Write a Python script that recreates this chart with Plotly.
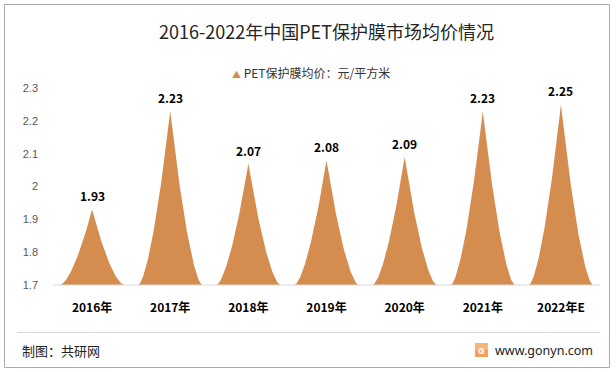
import numpy as np
import plotly.graph_objects as go

categories = ["2016年", "2017年", "2018年", "2019年", "2020年", "2021年", "2022年E"]
values = [1.93, 2.23, 2.07, 2.08, 2.09, 2.23, 2.25]
series_name = "PET保护膜均价：元/平方米"
title_text = "2016-2022年中国PET保护膜市场均价情况"
y_ticks = [1.7, 1.8, 1.9, 2.0, 2.1, 2.2, 2.3]
y_tick_text = ["1.7", "1.8", "1.9", "2", "2.1", "2.2", "2.3"]

BASE = 1.7
COLOR = "#D58C4F"
FONT = "Noto Sans CJK SC"
W, H = 616, 372
L, R, T, B = 53, 16, 88, 87
PW, PH = W - L - R, H - T - B


def px(x):
    return (x - L) / PW


def py(y):
    return (H - B - y) / PH


fig = go.Figure()

half = 0.41
p = 1.6
for i, v in enumerate(values):
    d = np.linspace(-half, half, 121)
    yy = BASE + (v - BASE) * (1 - np.abs(d) / half) ** p
    fig.add_trace(go.Scatter(
        x=i + d, y=yy, mode="lines", fill="toself", name=series_name,
        fillcolor=COLOR, line=dict(width=0, color=COLOR),
        hoverinfo="skip", showlegend=False))

for i, v in enumerate(values):
    fig.add_annotation(x=i, y=v, text=f"<b>{v:.2f}</b>", showarrow=False,
                       yanchor="bottom", yshift=3,
                       font=dict(family=FONT, size=12, color="#000000"))

shapes = [
    # baseline
    dict(type="line", xref="paper", yref="paper", x0=0, x1=1, y0=0, y1=0,
         line=dict(color="#D9D9D9", width=1)),
    # outer border
    dict(type="rect", xref="paper", yref="paper", x0=px(4.5), x1=px(609.5),
         y0=py(367.5), y1=py(4.5), line=dict(color="#ABABAB", width=1)),
    # separator
    dict(type="line", xref="paper", yref="paper", x0=px(17), x1=px(600),
         y0=py(332.5), y1=py(332.5), line=dict(color="#D9D9D9", width=1)),
    # logo
    dict(type="rect", xref="paper", yref="paper", x0=px(475), x1=px(488),
         y0=py(357), y1=py(343), line=dict(width=0), fillcolor="#F5A05A"),
    dict(type="rect", xref="paper", yref="paper", x0=px(475), x1=px(488),
         y0=py(350), y1=py(343), line=dict(width=0), fillcolor="#F7B478"),
]

annotations = [
    # legend
    dict(x=px(311), y=py(72), xref="paper", yref="paper",
         text=f"<span style='color:{COLOR};font-size:9px'>▲</span> {series_name}",
         showarrow=False, xanchor="center", yanchor="middle",
         font=dict(family=FONT, size=12, color="#333333")),
    dict(x=px(20), y=py(350), xref="paper", yref="paper", text="制图：共研网",
         showarrow=False, xanchor="left", yanchor="middle",
         font=dict(family=FONT, size=13, color="#222222")),
    dict(x=px(595), y=py(350), xref="paper", yref="paper", text="www.gonyn.com",
         showarrow=False, xanchor="right", yanchor="middle",
         font=dict(family="Noto Sans", size=12.5, color="#222222")),
    dict(x=px(481.5), y=py(350), xref="paper", yref="paper", text="<b>G</b>",
         showarrow=False, xanchor="center", yanchor="middle",
         font=dict(family="Noto Sans", size=9, color="#FFFFFF")),
]
for a in annotations:
    fig.add_annotation(**a)

fig.update_layout(
    width=W, height=H,
    margin=dict(l=L, r=R, t=T, b=B),
    paper_bgcolor="white", plot_bgcolor="white",
    title=dict(text=title_text, x=0.5, xref="paper", xanchor="center",
               y=1 - 33 / H, yanchor="middle",
               font=dict(family=FONT, size=18, color="#262626")),
    xaxis=dict(range=[-0.5, len(categories) - 0.5], tickvals=list(range(len(categories))),
               ticktext=[f"<b>{c}</b>" for c in categories], showgrid=False,
               zeroline=False, showline=False, ticks="", ticklabelstandoff=14,
               tickfont=dict(family=FONT, size=12, color="#000000"), fixedrange=True),
    yaxis=dict(range=[1.7, 2.3], tickvals=y_ticks, ticktext=y_tick_text,
               showgrid=False, zeroline=False, showline=False, ticks="",
               ticklabelstandoff=14,
               tickfont=dict(family="Liberation Sans", size=11, color="#595959"),
               fixedrange=True),
    shapes=shapes,
    showlegend=False,
)

fig.write_html("out.html", config={"displayModeBar": False},
               post_script="document.body.style.margin='0';document.body.style.overflow='hidden';")
